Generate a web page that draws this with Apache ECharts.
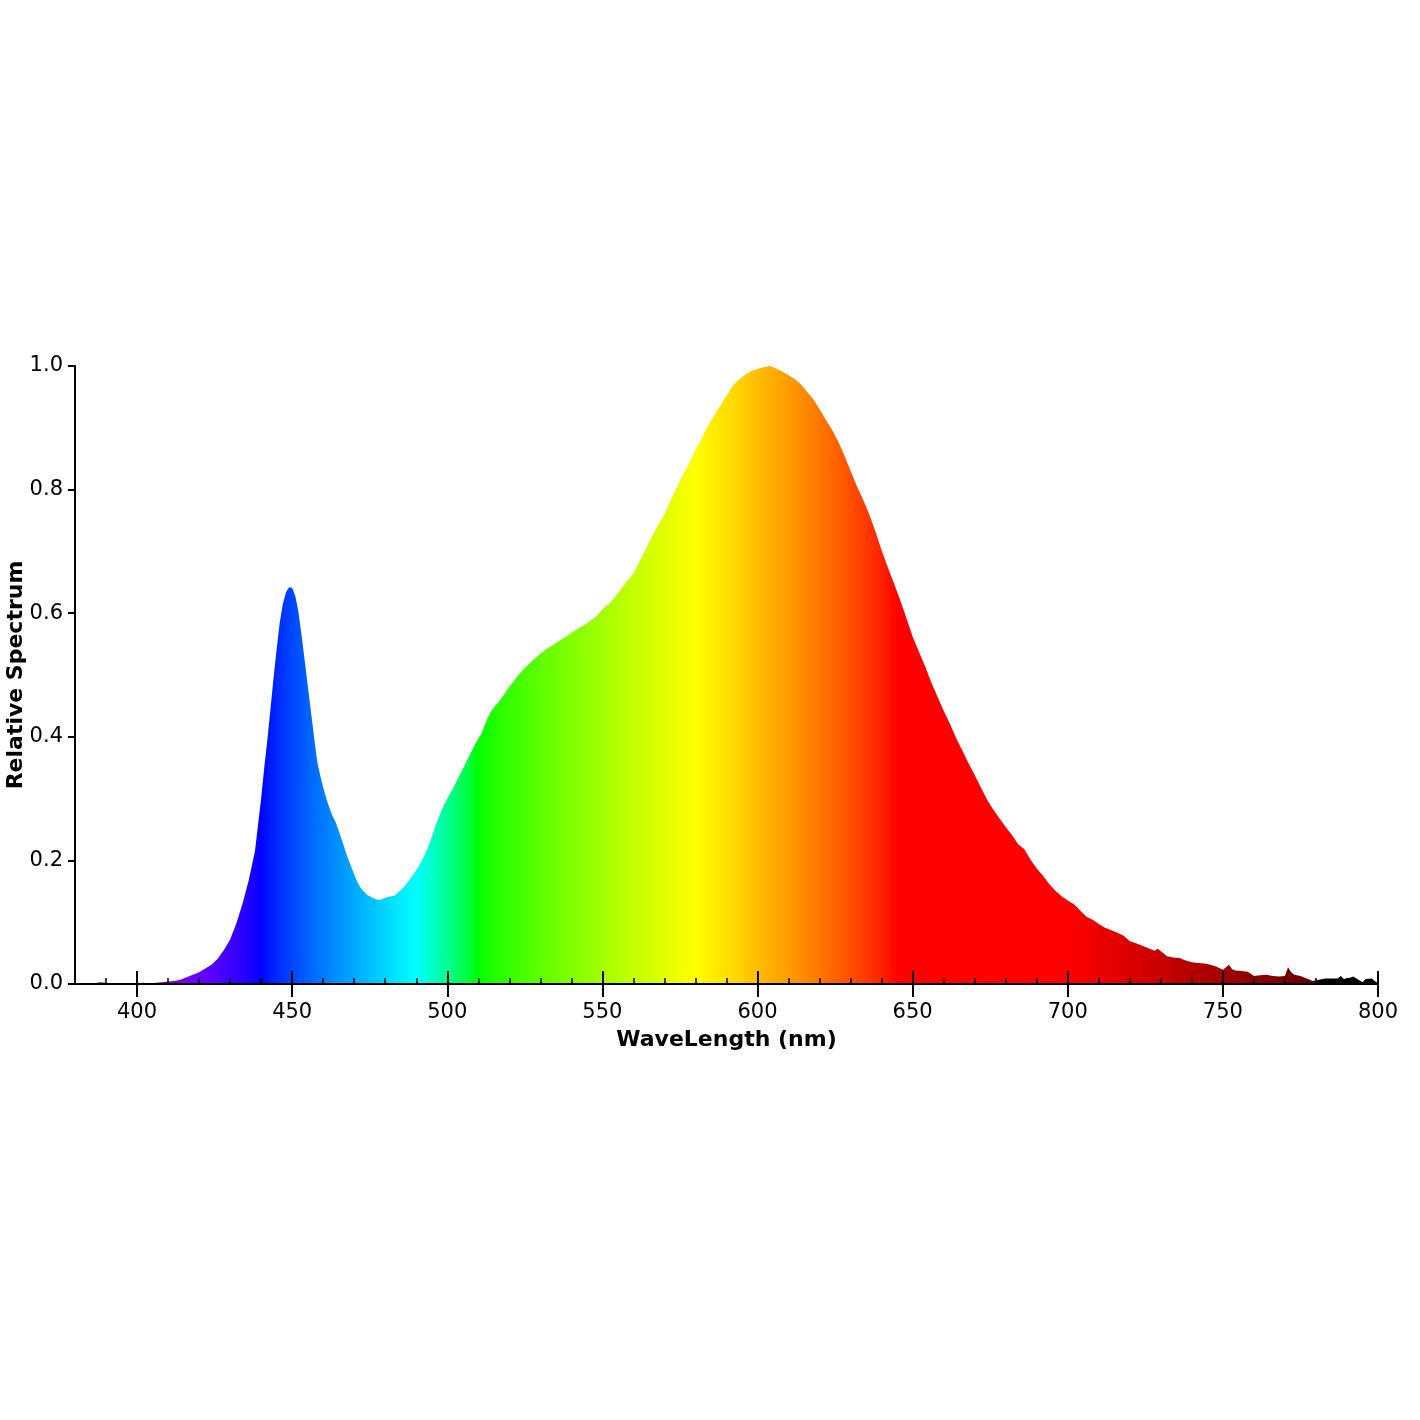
<!DOCTYPE html>
<html><head><meta charset="utf-8">
<script src="https://cdn.jsdelivr.net/npm/echarts@6/dist/echarts.min.js"></script>
<style>html,body{margin:0;padding:0;background:#fff}#chart{width:1420px;height:1420px}</style>
</head><body><div id="chart"></div>
<script>
// ---- data ----
const wavelengths = [
380,382,384,386,388,390,392,394,396,398,400,402,404,406,408,410,412,414,416,418,
420,422,424,426,428,430,432,434,436,438,440,441,442,443,444,445,446,447,448,449,
450,451,452,453,454,455,456,457,458,459,460,461,462,463,464,465,466,467,468,469,
470,471,472,473,474,475,476,477,478,479,480,481,482,483,484,485,486,487,488,489,
490,491,492,493,494,495,496,497,498,499,500,501,502,503,504,505,506,507,508,509,
510,511,512,513,514,515,516,517,518,519,520,522,524,526,528,530,532,534,536,538,
540,542,544,546,548,550,552,554,556,558,560,562,564,566,568,570,572,574,576,578,
580,582,584,586,588,590,592,594,596,598,600,602,604,606,608,610,612,614,616,618,
620,622,624,626,628,630,632,634,636,638,640,642,644,646,648,650,652,654,656,658,
660,662,664,666,668,670,672,674,676,678,680,682,684,686,688,690,692,694,696,698,
700,702,704,706,708,710,712,714,716,718,720,722,724,726,728,729,730,732,734,736,
738,740,742,744,746,748,750,752,753,754,756,758,760,762,764,766,768,770,771,772,
773,775,777,779,781,783,785,787,788,789,791,792,794,795,796,798,799,800
];
const relativeSpectrum = [
0.000,0.000,0.001,0.001,0.003,0.002,0.001,0.000,0.001,0.001,0.001,0.002,0.001,0.002,0.003,0.004,0.005,0.007,0.011,0.015,
0.019,0.025,0.031,0.041,0.055,0.072,0.098,0.130,0.168,0.215,0.300,0.350,0.395,0.445,0.495,0.542,0.585,0.615,0.634,0.642,
0.641,0.628,0.603,0.565,0.525,0.484,0.443,0.402,0.362,0.338,0.318,0.300,0.285,0.272,0.262,0.248,0.233,0.218,0.203,0.190,
0.177,0.165,0.156,0.150,0.145,0.142,0.139,0.137,0.136,0.137,0.139,0.141,0.142,0.143,0.147,0.152,0.157,0.163,0.170,0.177,
0.184,0.192,0.201,0.212,0.224,0.238,0.253,0.266,0.279,0.290,0.300,0.309,0.318,0.328,0.338,0.348,0.358,0.368,0.378,0.388,
0.397,0.405,0.418,0.430,0.440,0.447,0.453,0.459,0.466,0.474,0.481,0.494,0.506,0.516,0.526,0.534,0.542,0.548,0.555,0.561,
0.568,0.575,0.580,0.587,0.595,0.606,0.615,0.626,0.639,0.652,0.664,0.684,0.704,0.724,0.743,0.760,0.783,0.804,0.824,0.843,
0.864,0.883,0.903,0.920,0.936,0.952,0.968,0.978,0.986,0.992,0.995,0.998,1.000,0.996,0.991,0.985,0.979,0.970,0.958,0.946,
0.930,0.913,0.897,0.878,0.855,0.830,0.806,0.784,0.760,0.732,0.702,0.674,0.648,0.621,0.592,0.562,0.538,0.514,0.488,0.465,
0.442,0.421,0.398,0.378,0.357,0.338,0.318,0.298,0.282,0.268,0.254,0.241,0.226,0.218,0.201,0.187,0.175,0.162,0.151,0.142,
0.135,0.129,0.119,0.109,0.104,0.097,0.091,0.087,0.083,0.078,0.069,0.066,0.062,0.058,0.054,0.057,0.053,0.045,0.043,0.042,
0.038,0.035,0.034,0.033,0.031,0.028,0.023,0.031,0.024,0.022,0.021,0.020,0.013,0.014,0.015,0.013,0.012,0.013,0.027,0.019,
0.015,0.013,0.009,0.005,0.007,0.009,0.009,0.009,0.013,0.008,0.010,0.012,0.006,0.003,0.008,0.009,0.005,0.001
];
const xMajorTicks = [400,450,500,550,600,650,700,750,800];
const xMinorTicks = [390,410,420,430,440,460,470,480,490,510,520,530,540,560,570,580,590,610,620,630,640,660,670,680,690,710,720,730,740,760,770,780,790];
const xMin = 380, xMax = 800;
const yMin = 0, yMax = 1, yStep = 0.2;
const xName = 'WaveLength (nm)';
const yName = 'Relative Spectrum';

// ---- style: visible-spectrum colour of a wavelength (gamma 0.8) ----
function spectrumColor(w) {
  let r = 0, g = 0, b = 0;
  if (w >= 380 && w < 440) { r = -(w - 440) / 60; b = 1; }
  else if (w < 490) { g = (w - 440) / 50; b = 1; }
  else if (w < 510) { g = 1; b = -(w - 510) / 20; }
  else if (w < 580) { r = (w - 510) / 70; g = 1; }
  else if (w < 645) { r = 1; g = -(w - 645) / 65; }
  else if (w <= 780) { r = 1; }
  let f = 0;
  if (w >= 380 && w < 420) f = 0.3 + 0.7 * (w - 380) / 40;
  else if (w < 701) f = 1;
  else if (w <= 780) f = 0.3 + 0.7 * (780 - w) / 80;
  const c = v => v <= 0 ? 0 : Math.round(255 * Math.pow(v * f, 0.8));
  return 'rgb(' + c(r) + ',' + c(g) + ',' + c(b) + ')';
}
const stops = [];
for (let w = xMin; w <= xMax; w++) stops.push({ offset: (w - xMin) / (xMax - xMin), color: spectrumColor(w) });

const FONT = 'DejaVu Sans';
const chart = echarts.init(document.getElementById('chart'), null, { renderer: 'canvas' });
const baseX = {
  type: 'value', min: xMin, max: xMax, position: 'bottom', gridIndex: 0, z: 5,
  splitLine: { show: false }, axisLine: { show: false, onZero: false }, axisLabel: { show: false }
};
chart.setOption({
  animation: false,
  backgroundColor: '#fff',
  grid: { left: 75, right: 42, top: 366, bottom: 436, containLabel: false, outerBoundsMode: 'none' },
  xAxis: [
    Object.assign({}, baseX, {
      name: xName, nameLocation: 'middle', nameGap: 45,
      nameTextStyle: { fontFamily: FONT, fontWeight: 'bold', fontSize: 22, color: '#000' },
      axisLine: { show: true, onZero: false, lineStyle: { color: '#000', width: 2 } },
      axisTick: { show: true, inside: true, length: 13, customValues: xMajorTicks, lineStyle: { color: '#000', width: 2 } },
      axisLabel: { show: true, customValues: xMajorTicks, margin: 18, fontFamily: FONT, fontSize: 21, color: '#000' }
    }),
    Object.assign({}, baseX, {
      axisTick: { show: true, inside: false, length: 13, customValues: xMajorTicks, lineStyle: { color: '#000', width: 2 } }
    }),
    Object.assign({}, baseX, {
      axisTick: { show: true, inside: true, length: 6, customValues: xMinorTicks, lineStyle: { color: '#000', width: 1.5 } }
    })
  ],
  yAxis: {
    type: 'value', min: yMin, max: yMax, interval: yStep, z: 5,
    name: yName, nameLocation: 'middle', nameGap: 48, nameMoveOverlap: false,
    nameTextStyle: { fontFamily: FONT, fontWeight: 'bold', fontSize: 22, color: '#000' },
    splitLine: { show: false },
    axisLine: { show: true, lineStyle: { color: '#000', width: 2 } },
    axisTick: { show: true, inside: false, length: 7, lineStyle: { color: '#000', width: 2 } },
    axisLabel: { margin: 12, fontFamily: FONT, fontSize: 21, color: '#000', formatter: v => v.toFixed(1) }
  },
  series: [{
    type: 'line', xAxisIndex: 0, yAxisIndex: 0,
    data: wavelengths.map((w, i) => [w, relativeSpectrum[i]]),
    showSymbol: false, smooth: false,
    lineStyle: { width: 0 },
    areaStyle: { opacity: 1, color: { type: 'linear', x: 0, y: 0, x2: 1, y2: 0, global: false, colorStops: stops } },
    z: 1
  }]
});
</script>
</body></html>
